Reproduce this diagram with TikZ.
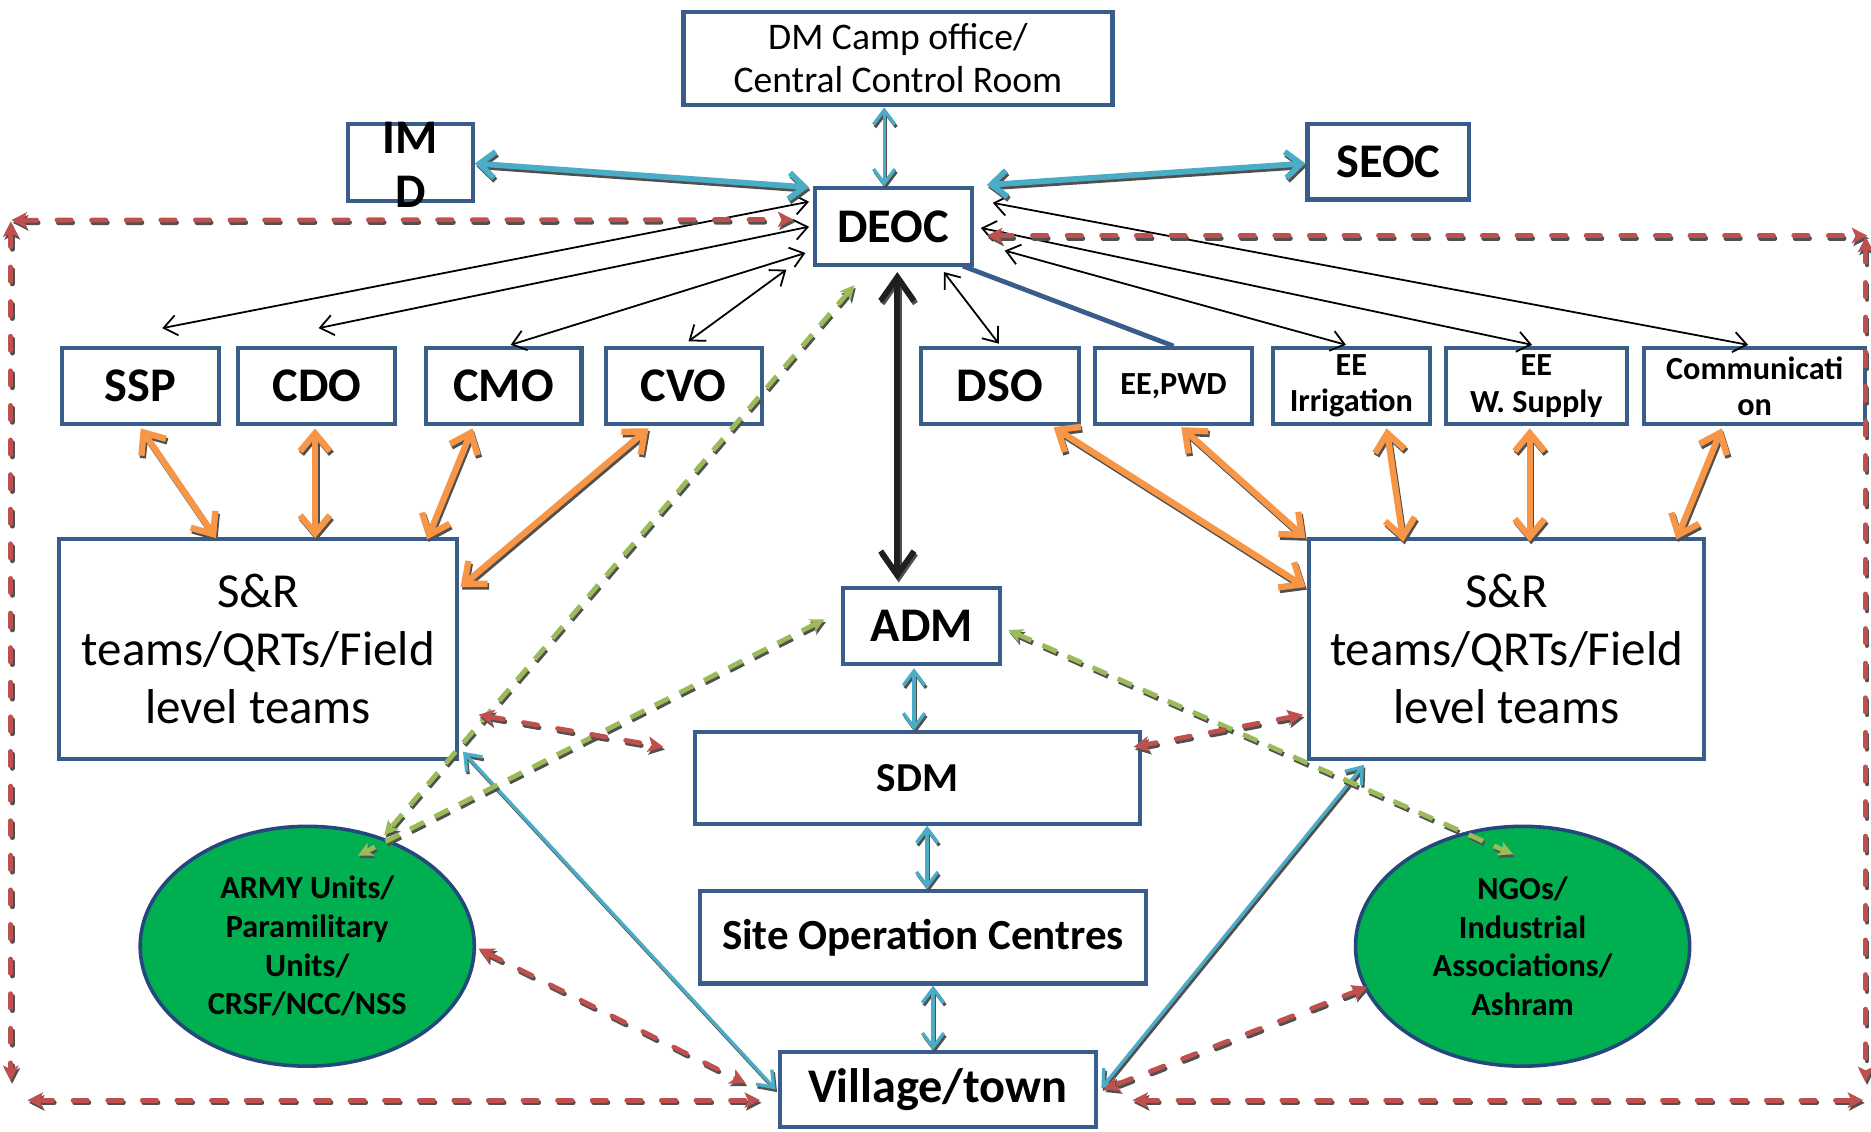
\documentclass[tikz,border=0pt]{standalone}
\usepackage{fontspec}
\setmainfont{Carlito}
\usetikzlibrary{arrows.meta,calc,shapes.geometric}
\definecolor{boxblue}{RGB}{56,93,138}
\definecolor{lblue}{RGB}{75,172,198}
\definecolor{orng}{RGB}{247,150,70}
\definecolor{redd}{RGB}{192,80,77}
\definecolor{grn}{RGB}{155,187,89}
\definecolor{ellfill}{RGB}{0,176,80}
\definecolor{elldraw}{RGB}{36,72,124}
\definecolor{shadowgray}{RGB}{80,80,80}
\newcommand{\sh}[2]{\draw[#1,shd] #2; \draw[#1] #2;}
\begin{document}
\begin{tikzpicture}[x=1pt,y=-1pt,
  box/.style={draw=boxblue, line width=3.5pt, fill=white, inner sep=0pt, align=center},
  ell/.style={ellipse, draw=elldraw, fill=ellfill, line width=3pt, inner sep=0pt, align=center,
    minimum width=280pt, minimum height=201pt, font=\bfseries\fontsize{27}{32.5}\selectfont},
  big/.style={font=\bfseries\fontsize{40.5}{45}\selectfont},
  small/.style={font=\bfseries\fontsize{27}{30.5}\selectfont},
  srtext/.style={font=\fontsize{41}{48.5}\selectfont},
  shd/.style={draw=shadowgray, transform canvas={shift={(1.2pt,-2.2pt)}}},
  thinblk/.style={draw=black, line width=1.5pt, >={Straight Barb[length=11pt,width=17pt]}, <->},
  orarrow/.style={draw=orng, line width=5.3pt, >={Straight Barb[length=15pt,width=25pt]}, <->},
  lbthin/.style={draw=lblue, line width=2.8pt, >={Straight Barb[length=12pt,width=18pt]}, <->},
  lbthick/.style={draw=lblue, line width=4.8pt, >={Straight Barb[length=13pt,width=22pt]}, <->},
  blkthick/.style={draw=black!88, line width=4.8pt, >={Straight Barb[length=20pt,width=28pt]}, <->},
  rdash/.style={draw=redd, line width=4pt, line cap=round, dash pattern=on 12pt off 17pt,
    >={Stealth[length=13pt,width=13pt,inset=3pt]}, <->},
  gdash/.style={draw=grn, line width=4pt, dash pattern=on 13pt off 10pt,
    >={Stealth[length=12pt,width=12pt,inset=3pt]}, <->},
  linkline/.style={draw=boxblue, line width=4pt}
]
\useasboundingbox (0,0) rectangle (1568,948);

% ---------- nodes ----------
\node[box, minimum width=359.5pt, minimum height=78.5pt, font=\fontsize{31.5}{36}\selectfont] (dm) at (752.5,49) {DM Camp office/\\Central Control Room};
\node[box, minimum width=104.5pt, minimum height=64.5pt] (imd) at (344,136) {};
\node[big, align=center, inner sep=0pt] (imdtext) at (344,138) {IM\\D};
\node[box, big, minimum width=135.5pt, minimum height=63.5pt] (seoc) at (1163.5,135.5) {SEOC};
\node[box, big, minimum width=131.5pt, minimum height=64.5pt] (deoc) at (748.5,190) {DEOC};

\node[box, big, minimum width=131.5pt, minimum height=63.5pt] (ssp) at (117.5,323.5) {SSP};
\node[box, big, minimum width=131.5pt, minimum height=63.5pt] (cdo) at (265.5,323.5) {CDO};
\node[box, big, minimum width=130.5pt, minimum height=63.5pt] (cmo) at (422,323.5) {CMO};
\node[box, big, minimum width=130.5pt, minimum height=63.5pt] (cvo) at (573,323.5) {CVO};
\node[box, big, minimum width=132.5pt, minimum height=63.5pt] (dso) at (838,323.5) {DSO};
\node[box, small, minimum width=131.5pt, minimum height=63.5pt] (eepwd) at (983.5,323.5) {EE,PWD};
\node[box, small, minimum width=131.5pt, minimum height=63.5pt] (eeirr) at (1132.5,323.5) {EE\\Irrigation};
\node[box, small, minimum width=151.5pt, minimum height=63.5pt] (eews) at (1287.5,323.5) {EE\\W. Supply};
\node[box, small, minimum width=185.5pt, minimum height=63.5pt] (comm) at (1470.5,323.5) {Communicati\\on};

\node[box, srtext, minimum width=333.5pt, minimum height=184.5pt] (srl) at (216.5,544) {S\&R\\teams/QRTs/Field\\level teams};
\node[box, srtext, minimum width=331.5pt, minimum height=184.5pt] (srr) at (1262.5,544) {S\&R\\teams/QRTs/Field\\level teams};

\node[box, big, minimum width=131.5pt, minimum height=63.5pt] (adm) at (772.5,524.5) {ADM};
\node[box, font=\bfseries\fontsize{34.5}{38}\selectfont, minimum width=372.5pt, minimum height=76.5pt] (sdm) at (769,652) {SDM};
\node[box, font=\bfseries\fontsize{36}{42}\selectfont, minimum width=373.5pt, minimum height=77.5pt] (site) at (773.5,785.5) {Site Operation Centres};
\node[box, font=\bfseries\fontsize{40.5}{48}\selectfont, minimum width=264.5pt, minimum height=62.5pt] (vil) at (786,913) {Village/town};

\node[ell] (army) at (257.5,793) {ARMY Units/\\Paramilitary\\Units/\\CRSF/NCC/NSS};
\node[ell] (ngo) at (1276,793) {NGOs/\\Industrial\\Associations/\\Ashram};

% ---------- coordinates for the outer loop ----------
\coordinate (otl) at (9.5,184.5);
\coordinate (lvt) at (9,185.5);
\coordinate (lvb) at (9,906);
\coordinate (blh) at (23,922);
\coordinate (otr) at (1565,197.5);
\coordinate (rvt) at (1563.5,198.5);
\coordinate (rvb) at (1563.5,907);
\coordinate (brh) at (1561.5,922);

% ---------- plain link DEOC - EE,PWD ----------
\draw[linkline] ($(deoc.south east)+(-9,-1)$) -- (eepwd.north);

% ---------- thin black arrows ----------
\draw[thinblk] ($(deoc.west)+(-3,-21)$) -- ($(ssp.north)+(18.5,-15)$);
\draw[thinblk] ($(deoc.west)+(-3,0)$) -- ($(cdo.north)+(1.5,-15)$);
\draw[thinblk] ($(deoc.west)+(-6,22)$) -- ($(cmo.north)+(6,-1)$);
\draw[thinblk] ($(deoc.south west)+(-22,2)$) -- ($(cvo.north)+(4,-4)$);
\draw[thinblk] ($(deoc.south east)+(-25,4)$) -- ($(dso.north)+(-1,-2)$);
\draw[thinblk] ($(deoc.east)+(26,20)$) -- ($(eeirr.north)+(-4.5,-1)$);
\draw[thinblk] ($(deoc.east)+(6,1)$) -- ($(eews.north)+(-3.5,-1)$);
\draw[thinblk] ($(deoc.east)+(16,-20)$) -- ($(comm.north)+(-5.5,-1)$);

% ---------- light blue arrows ----------
\sh{lbthin}{($(dm.south)+(-11.5,0)$) -- ($(deoc.north)+(-7.5,0)$)}
\sh{lbthick}{($(imd.east)+(0,1)$) -- ($(deoc.north west)+(-3,1)$)}
\sh{lbthick}{($(seoc.west)+(0,1.5)$) -- ($(deoc.north east)+(11,-1)$)}
\sh{lbthin}{($(adm.south)+(-6.5,2)$) -- ($(sdm.north)+(-3,0)$)}
\sh{lbthin}{($(sdm.south)+(8,0)$) -- ($(site.north)+(3.5,0)$)}
\sh{lbthin}{($(site.south)+(8.5,0)$) -- ($(vil.north)+(-4,0)$)}
\sh{lbthin}{($(srl.south east)+(3,-8)$) -- ($(vil.west)+(-2,0)$)}
\sh{lbthin}{($(srr.south west)+(48,3)$) -- ($(vil.east)+(3,-1)$)}

% ---------- thick black arrow ----------
\sh{blkthick}{($(deoc.south)+(3.5,4)$) -- ($(adm.north)+(-20.5,-5)$)}

% ---------- orange arrows ----------
\sh{orarrow}{($(ssp.south)+(0.5,2)$) -- ($(srl.north west)+(133,1)$)}
\sh{orarrow}{($(cdo.south)+(-1.5,2)$) -- ($(srl.north west)+(216,1)$)}
\sh{orarrow}{($(cmo.south)+(-26,2)$) -- ($(srl.north west)+(310,2)$)}
\sh{orarrow}{($(cvo.south)+(-29.5,2)$) -- ($(srl.north east)+(1,42)$)}
\sh{orarrow}{($(dso.south east)+(-23,1)$) -- ($(srr.north west)+(-1,42)$)}
\sh{orarrow}{($(eepwd.south)+(6.5,1)$) -- ($(srr.north west)+(-1,1)$)}
\sh{orarrow}{($(eeirr.south)+(29.5,2)$) -- ($(srr.north west)+(81,4)$)}
\sh{orarrow}{($(eews.south)+(-5.5,2)$) -- ($(srr.north west)+(187,4)$)}
\sh{orarrow}{($(comm.south)+(-27.5,2)$) -- ($(srr.north west)+(310,2)$)}

% ---------- green dashed arrows ----------
\sh{gdash}{($(deoc.south west)+(35,15)$) -- ($(army.center)+(64.5,-93)$)}
\sh{gdash}{($(adm.west)+(-14,-5.5)$) -- ($(army.center)+(42.5,-76)$)}
\sh{gdash}{($(adm.east)+(5,3.5)$) -- ($(ngo.center)+(-8,-77)$)}

% ---------- red dashed arrows ----------
\sh{rdash}{(otl) -- ($(deoc.west)+(-16,-6)$)}
\sh{rdash}{(lvt) -- (lvb)}
\sh{rdash}{(blh) -- ($(vil.west)+(-15,9)$)}
\sh{rdash}{($(deoc.east)+(11,7.5)$) -- (otr)}
\sh{rdash}{(rvt) -- (rvb)}
\sh{rdash}{($(vil.east)+(29,9)$) -- (brh)}
\sh{rdash}{($(srl.east)+(16,55)$) -- ($(sdm.west)+(-25,-26)$)}
\sh{rdash}{($(srr.west)+(-3,55)$) -- ($(sdm.east)+(-7,-26)$)}
\sh{rdash}{($(army.east)+(2,2)$) -- ($(vil.west)+(-27,-5)$)}
\sh{rdash}{($(ngo.center)+(-130,34)$) -- ($(vil.east)+(5,0)$)}
\end{tikzpicture}
\end{document}
